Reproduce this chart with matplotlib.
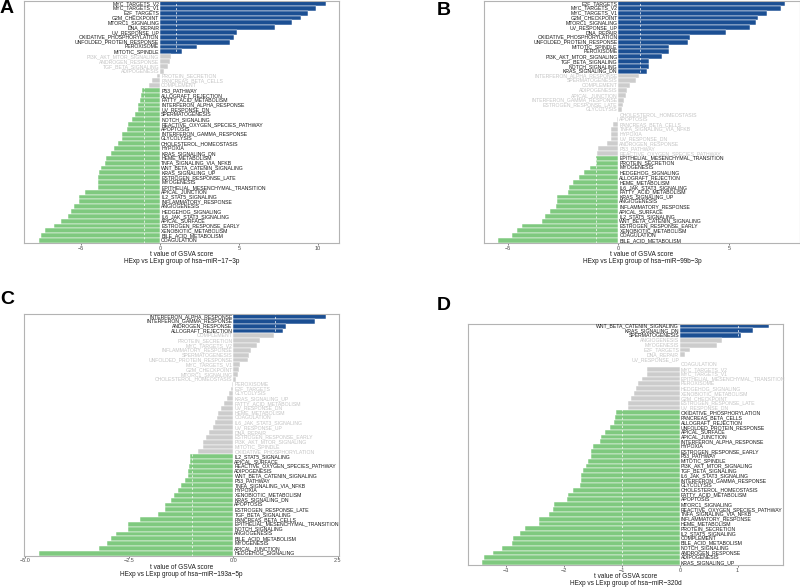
import numpy as np
import matplotlib.pyplot as plt

plt.rcParams['font.family'] = ['Liberation Sans', 'DejaVu Sans']

BLUE = '#1b4f93'
GREEN = '#7fc97f'
GREY = '#cccccc'
GREY_TEXT = '#c4c4c4'
DARK_TEXT = '#1a1a1a'

# ---- panel A : hsa-miR-17-3p ----
a_terms = ['MYC_TARGETS_V2', 'MYC_TARGETS_V1', 'E2F_TARGETS', 'G2M_CHECKPOINT', 'MTORC1_SIGNALING',
           'DNA_REPAIR', 'UV_RESPONSE_UP', 'OXIDATIVE_PHOSPHORYLATION', 'UNFOLDED_PROTEIN_RESPONSE',
           'PEROXISOME', 'MITOTIC_SPINDLE', 'PI3K_AKT_MTOR_SIGNALING', 'ANDROGEN_RESPONSE',
           'TGF_BETA_SIGNALING', 'ADIPOGENESIS', 'PROTEIN_SECRETION', 'PANCREAS_BETA_CELLS', 'COMPLEMENT',
           'P53_PATHWAY', 'ALLOGRAFT_REJECTION', 'FATTY_ACID_METABOLISM', 'INTERFERON_ALPHA_RESPONSE',
           'UV_RESPONSE_DN', 'SPERMATOGENESIS', 'NOTCH_SIGNALING', 'REACTIVE_OXYGEN_SPECIES_PATHWAY',
           'APOPTOSIS', 'INTERFERON_GAMMA_RESPONSE', 'GLYCOLYSIS', 'CHOLESTEROL_HOMEOSTASIS', 'HYPOXIA',
           'KRAS_SIGNALING_DN', 'HEME_METABOLISM', 'TNFA_SIGNALING_VIA_NFKB', 'WNT_BETA_CATENIN_SIGNALING',
           'KRAS_SIGNALING_UP', 'ESTROGEN_RESPONSE_LATE', 'MYOGENESIS', 'EPITHELIAL_MESENCHYMAL_TRANSITION',
           'APICAL_JUNCTION', 'IL2_STAT5_SIGNALING', 'INFLAMMATORY_RESPONSE', 'ANGIOGENESIS',
           'HEDGEHOG_SIGNALING', 'IL6_JAK_STAT3_SIGNALING', 'APICAL_SURFACE', 'ESTROGEN_RESPONSE_EARLY',
           'XENOBIOTIC_METABOLISM', 'BILE_ACID_METABOLISM', 'COAGULATION']
a_t = [10.5, 9.9, 9.4, 8.97, 8.4, 7.3, 4.87, 4.7, 4.43, 2.32, 1.37,
       0.68, 0.63, 0.53, 0.23, -0.17, -0.5, -0.7,
       -1.12, -1.2, -1.28, -1.41, -1.42, -1.58, -1.75, -2.05, -2.09, -2.4, -2.42, -2.64, -2.9,
       -3.1, -3.4, -3.5, -3.73, -3.86, -3.92, -3.93, -3.95, -4.77, -5.13, -5.17, -5.44, -5.65,
       -5.84, -6.27, -6.7, -7.32, -7.58, -7.7]

# ---- panel B : hsa-miR-99b-3p ----
b_terms = ['E2F_TARGETS', 'MYC_TARGETS_V2', 'MYC_TARGETS_V1', 'G2M_CHECKPOINT', 'MTORC1_SIGNALING',
           'UV_RESPONSE_UP', 'DNA_REPAIR', 'OXIDATIVE_PHOSPHORYLATION', 'UNFOLDED_PROTEIN_RESPONSE',
           'MITOTIC_SPINDLE', 'PEROXISOME', 'PI3K_AKT_MTOR_SIGNALING', 'TGF_BETA_SIGNALING',
           'NOTCH_SIGNALING', 'KRAS_SIGNALING_DN', 'INTERFERON_ALPHA_RESPONSE', 'SPERMATOGENESIS',
           'COMPLEMENT', 'ADIPOGENESIS', 'APICAL_JUNCTION', 'INTERFERON_GAMMA_RESPONSE',
           'ESTROGEN_RESPONSE_LATE', 'GLYCOLYSIS', 'CHOLESTEROL_HOMEOSTASIS', 'APOPTOSIS',
           'PANCREAS_BETA_CELLS', 'TNFA_SIGNALING_VIA_NFKB', 'HYPOXIA', 'UV_RESPONSE_DN',
           'ANDROGEN_RESPONSE', 'P53_PATHWAY', 'REACTIVE_OXYGEN_SPECIES_PATHWAY',
           'EPITHELIAL_MESENCHYMAL_TRANSITION', 'PROTEIN_SECRETION', 'MYOGENESIS', 'HEDGEHOG_SIGNALING',
           'ALLOGRAFT_REJECTION', 'HEME_METABOLISM', 'IL6_JAK_STAT3_SIGNALING', 'FATTY_ACID_METABOLISM',
           'KRAS_SIGNALING_UP', 'ANGIOGENESIS', 'INFLAMMATORY_RESPONSE', 'APICAL_SURFACE',
           'IL2_STAT5_SIGNALING', 'WNT_BETA_CATENIN_SIGNALING', 'ESTROGEN_RESPONSE_EARLY',
           'XENOBIOTIC_METABOLISM', 'COAGULATION', 'BILE_ACID_METABOLISM']
b_t = [7.54, 7.36, 6.74, 6.32, 6.23, 5.97, 4.87, 3.26, 3.14, 2.31, 2.28, 1.98, 1.4, 1.37, 1.31,
       0.92, 0.8, 0.51, 0.38, 0.33, 0.24, 0.21, 0.15,
       -0.02, -0.08, -0.23, -0.33, -0.35, -0.34, -0.5, -0.92, -0.97,
       -1.02, -1.02, -1.27, -1.57, -1.76, -2.07, -2.23, -2.28, -2.79, -2.79, -2.8, -3.08, -3.33,
       -3.44, -4.36, -4.59, -4.8, -5.44]

# ---- panel C : hsa-miR-193a-5p ----
c_terms = ['INTERFERON_ALPHA_RESPONSE', 'INTERFERON_GAMMA_RESPONSE', 'ANDROGEN_RESPONSE',
           'ALLOGRAFT_REJECTION', 'COMPLEMENT', 'PROTEIN_SECRETION', 'MYC_TARGETS_V2',
           'INFLAMMATORY_RESPONSE', 'SPERMATOGENESIS', 'UNFOLDED_PROTEIN_RESPONSE', 'MYC_TARGETS_V1',
           'G2M_CHECKPOINT', 'MTORC1_SIGNALING', 'CHOLESTEROL_HOMEOSTASIS', 'PEROXISOME', 'E2F_TARGETS',
           'GLYCOLYSIS', 'KRAS_SIGNALING_UP', 'FATTY_ACID_METABOLISM', 'UV_RESPONSE_DN', 'HEME_METABOLISM',
           'COAGULATION', 'IL6_JAK_STAT3_SIGNALING', 'UV_RESPONSE_UP', 'DNA_REPAIR',
           'ESTROGEN_RESPONSE_EARLY', 'PI3K_AKT_MTOR_SIGNALING', 'MITOTIC_SPINDLE',
           'OXIDATIVE_PHOSPHORYLATION', 'IL2_STAT5_SIGNALING', 'APICAL_SURFACE',
           'REACTIVE_OXYGEN_SPECIES_PATHWAY', 'ADIPOGENESIS', 'WNT_BETA_CATENIN_SIGNALING', 'P53_PATHWAY',
           'TNFA_SIGNALING_VIA_NFKB', 'HYPOXIA', 'XENOBIOTIC_METABOLISM', 'KRAS_SIGNALING_DN', 'APOPTOSIS',
           'ESTROGEN_RESPONSE_LATE', 'TGF_BETA_SIGNALING', 'PANCREAS_BETA_CELLS',
           'EPITHELIAL_MESENCHYMAL_TRANSITION', 'NOTCH_SIGNALING', 'ANGIOGENESIS', 'BILE_ACID_METABOLISM',
           'MYOGENESIS', 'APICAL_JUNCTION', 'HEDGEHOG_SIGNALING']
c_t = [2.21, 1.96, 1.26, 1.2,
       0.98, 0.63, 0.56, 0.42, 0.38, 0.34, 0.16, 0.14, 0.1, 0.06,
       -0.03, -0.05, -0.1, -0.16, -0.23, -0.3, -0.36, -0.4, -0.43, -0.5, -0.58, -0.65, -0.74,
       -0.74, -0.85,
       -1.04, -1.04, -1.06, -1.09, -1.09, -1.16, -1.25, -1.33, -1.42, -1.49, -1.65, -1.65, -1.81,
       -2.24, -2.52, -2.52, -2.81, -2.93, -3.04, -3.23, -4.67]

# ---- panel D : hsa-miR-320d ----
d_terms = ['WNT_BETA_CATENIN_SIGNALING', 'KRAS_SIGNALING_DN', 'SPERMATOGENESIS', 'ANGIOGENESIS',
           'MYOGENESIS', 'E2F_TARGETS', 'DNA_REPAIR', 'UV_RESPONSE_UP', 'COAGULATION', 'MYC_TARGETS_V2',
           'MYC_TARGETS_V1', 'EPITHELIAL_MESENCHYMAL_TRANSITION', 'PEROXISOME', 'HEDGEHOG_SIGNALING',
           'XENOBIOTIC_METABOLISM', 'G2M_CHECKPOINT', 'ESTROGEN_RESPONSE_LATE', 'UV_RESPONSE_DN',
           'OXIDATIVE_PHOSPHORYLATION', 'PANCREAS_BETA_CELLS', 'ALLOGRAFT_REJECTION',
           'UNFOLDED_PROTEIN_RESPONSE', 'APICAL_SURFACE', 'APICAL_JUNCTION', 'INTERFERON_ALPHA_RESPONSE',
           'HYPOXIA', 'ESTROGEN_RESPONSE_EARLY', 'P53_PATHWAY', 'MITOTIC_SPINDLE',
           'PI3K_AKT_MTOR_SIGNALING', 'TGF_BETA_SIGNALING', 'IL6_JAK_STAT3_SIGNALING',
           'INTERFERON_GAMMA_RESPONSE', 'GLYCOLYSIS', 'CHOLESTEROL_HOMEOSTASIS', 'FATTY_ACID_METABOLISM',
           'APOPTOSIS', 'MTORC1_SIGNALING', 'REACTIVE_OXYGEN_SPECIES_PATHWAY', 'TNFA_SIGNALING_VIA_NFKB',
           'INFLAMMATORY_RESPONSE', 'HEME_METABOLISM', 'PROTEIN_SECRETION', 'IL2_STAT5_SIGNALING',
           'COMPLEMENT', 'BILE_ACID_METABOLISM', 'NOTCH_SIGNALING', 'ANDROGEN_RESPONSE', 'ADIPOGENESIS',
           'KRAS_SIGNALING_UP']
d_t = [1.54, 1.27, 1.05,
       0.73, 0.65, 0.18, 0.09, 0.01,
       -0.005, -0.56, -0.56, -0.65, -0.72, -0.76, -0.8, -0.85, -0.89, -0.89,
       -1.11, -1.12, -1.14, -1.21, -1.3, -1.36, -1.38, -1.51, -1.53, -1.54, -1.59, -1.63, -1.68,
       -1.71, -1.71, -1.73, -1.84, -1.93, -1.96, -2.17, -2.19, -2.27, -2.44, -2.44, -2.68, -2.77,
       -2.88, -2.91, -3.07, -3.23, -3.38, -3.42]

W, H = 800, 588
fig = plt.figure(figsize=(W / 100, H / 100), dpi=100)


def px_rect(x0, y0, x1, y1):
    # pixel box (top-left origin) -> figure fraction rect
    return [x0 / W, 1 - y1 / H, (x1 - x0) / W, (y1 - y0) / H]


def draw_panel(rect, terms, tvals, mirna, xlim, ticks):
    ax = fig.add_axes(rect)
    n = len(terms)
    ys = np.arange(n)[::-1]
    cols = [BLUE if v > 1 else GREEN if v < -1 else GREY for v in tvals]
    ax.barh(ys, tvals, height=1.0, color=cols, edgecolor='white', linewidth=0.35, zorder=2)
    ax.axvline(-1, color='white', ls=(0, (3, 3)), lw=0.5, zorder=3)
    ax.axvline(1, color='white', ls=(0, (3, 3)), lw=0.5, zorder=3)
    for y, term, v in zip(ys, terms, tvals):
        tc = DARK_TEXT if abs(v) > 1 else GREY_TEXT
        if v > 0:
            ax.annotate(term, (0, y), xytext=(-0.6, 0), textcoords='offset points',
                        ha='right', va='center', fontsize=3.7, color=tc, zorder=4)
        else:
            ax.annotate(term, (0, y), xytext=(0.8, 0), textcoords='offset points',
                        ha='left', va='center', fontsize=3.7, color=tc, zorder=4)
    ax.set_xlim(*xlim)
    ax.set_ylim(-0.5, n - 0.5)
    ax.set_xticks(ticks)
    ax.set_yticks([])
    ax.tick_params(axis='x', labelsize=4.0, colors='#4d4d4d', length=1.6, width=0.5, pad=0.4)
    for s in ax.spines.values():
        s.set_color('#b3b3b3')
        s.set_linewidth(0.8)
    ax.set_xlabel('t value of GSVA score\nHExp vs LExp group of ' + mirna,
                  fontsize=4.7, labelpad=0.3, linespacing=1.0, color='#1a1a1a')
    return ax


draw_panel(px_rect(24, 1, 339.3, 243), a_terms, a_t, 'hsa\u2212miR\u221217\u22123p',
           (-8.63, 11.37), [-5, 0, 5, 10])
draw_panel(px_rect(484, 1, 800, 243), b_terms, b_t, 'hsa\u2212miR\u221299b\u22123p',
           (-6.08, 8.22), [-5, 0, 5])
draw_panel(px_rect(24, 314, 339.3, 555.7), c_terms, c_t, 'hsa\u2212miR\u2212193a\u22125p',
           (-5.02, 2.54), [-5.0, -2.5, 0.0, 2.5])
draw_panel(px_rect(467.7, 323.5, 783.3, 565), d_terms, d_t, 'hsa\u2212miR\u2212320d',
           (-3.67, 1.79), [-3, -2, -1, 0, 1])

# panel letters
for letter, x, y in [('A', 0, 0), ('B', 437, 2), ('C', 0, 291), ('D', 437, 297)]:
    fig.text(x / W, 1 - y / H, letter, fontsize=14, fontweight='bold', ha='left', va='top',
             family='Liberation Sans')

fig.savefig('out.png', dpi=100)
